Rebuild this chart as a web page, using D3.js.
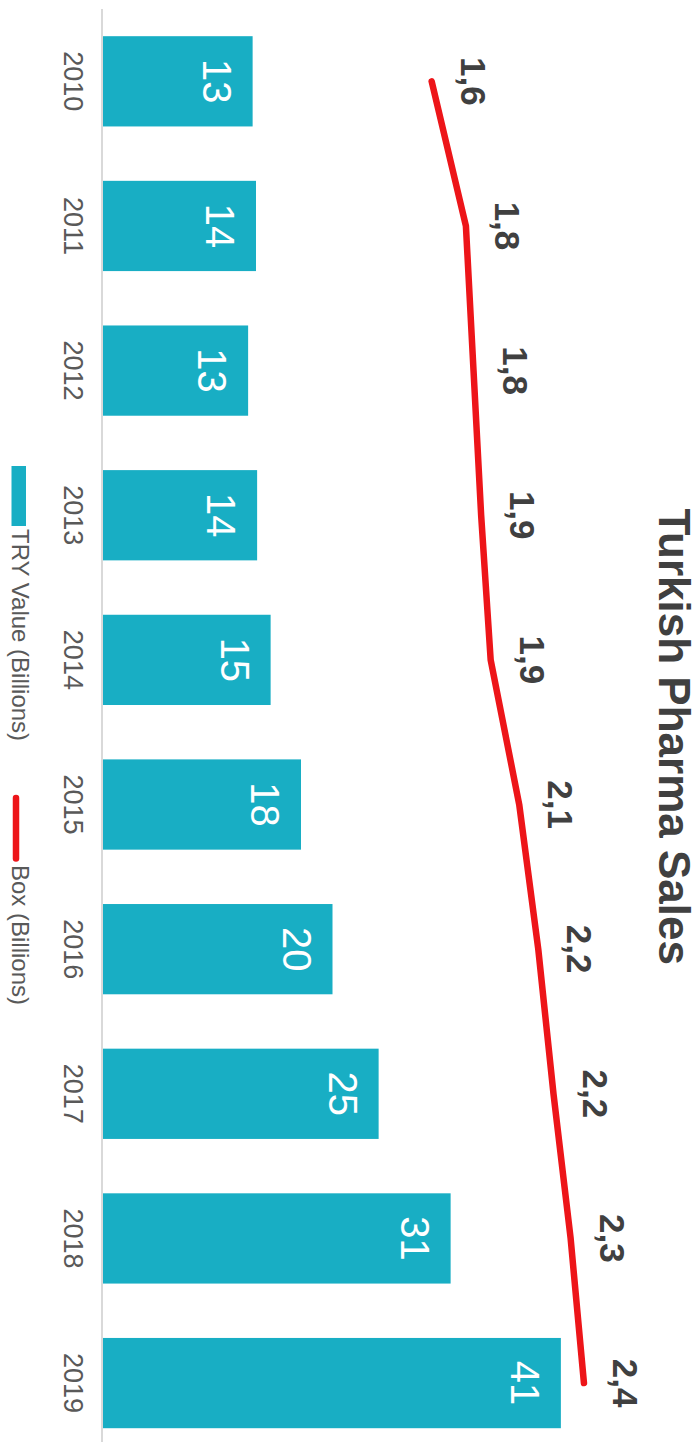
<!DOCTYPE html>
<html>
<head>
<meta charset="utf-8">
<script src="https://cdn.jsdelivr.net/npm/d3@7"></script>
<style>
  html, body { margin: 0; padding: 0; background: #ffffff; }
  svg { display: block; font-family: "Liberation Sans", Arial, sans-serif; }
</style>
</head>
<body>
<svg id="chart" width="699" height="1442"></svg>
<script>
// Yearly Turkish pharma market: value in TRY billions (bars) and boxes sold in billions (line)
const years = ["2010", "2011", "2012", "2013", "2014", "2015", "2016", "2017", "2018", "2019"];
const tryValue = [13.3, 13.6, 12.9, 13.7, 14.9, 17.6, 20.4, 24.5, 30.9, 40.7];
const boxValue = [1.60, 1.78, 1.82, 1.86, 1.91, 2.06, 2.16, 2.24, 2.33, 2.40];
const seriesNames = ["TRY Value (Billions)", "Box (Billions)"];
const chartTitle = "Turkish Pharma Sales";

const W = 1442, H = 699;           // chart drawn landscape, then turned a quarter clockwise
const barColor = "#18aec4";
const lineColor = "#ed1519";

const svg = d3.select("#chart");
const g = svg.append("g").attr("transform", `translate(${H},0) rotate(90)`);

const x = d3.scaleBand().domain(years).range([9, 9 + 10 * 144.64])
  .paddingInner(0.376).paddingOuter(0.188);
const yBar = d3.scaleLinear().domain([0, 45]).range([596, 596 - 45 * 11.25]);
const yBox = d3.scaleLinear().domain([0, 2.5]).range([572, 572 - 2.5 * 190.4]);

// bars
g.selectAll("rect.bar").data(years).join("rect")
  .attr("class", "bar")
  .attr("x", d => x(d))
  .attr("width", x.bandwidth())
  .attr("y", (d, i) => yBar(tryValue[i]))
  .attr("height", (d, i) => yBar(0) - yBar(tryValue[i]))
  .attr("fill", barColor);

// category axis
const axis = g.append("g").attr("transform", `translate(0,${yBar(0) + 1})`)
  .call(d3.axisBottom(x).tickSize(0).tickPadding(19));
axis.select(".domain").remove();
axis.append("line").attr("x1", 9).attr("x2", W).attr("y1", 0).attr("y2", 0)
  .attr("stroke", "#d9d9d9").attr("stroke-width", 2);
axis.selectAll(".tick text")
  .attr("font-size", 27).attr("fill", "#595959")
  .attr("font-family", "'Liberation Sans', Arial, sans-serif");

// bar value labels
g.selectAll("text.barlab").data(years).join("text")
  .attr("class", "barlab")
  .attr("x", d => x(d) + x.bandwidth() / 2)
  .attr("y", (d, i) => yBar(tryValue[i]) + 50)
  .attr("text-anchor", "middle")
  .attr("font-size", 40).attr("fill", "#ffffff")
  .text((d, i) => d3.format(".0f")(tryValue[i]));

// box line
const line = d3.line()
  .x((d, i) => x(years[i]) + x.bandwidth() / 2)
  .y(d => yBox(d));
g.append("path").datum(boxValue)
  .attr("d", line)
  .attr("fill", "none").attr("stroke", lineColor)
  .attr("stroke-width", 6.5).attr("stroke-linejoin", "round").attr("stroke-linecap", "round");

// box value labels
const commaFmt = v => d3.format(".1f")(v).replace(".", ",");
g.selectAll("text.boxlab").data(boxValue).join("text")
  .attr("class", "boxlab")
  .attr("x", (d, i) => x(years[i]) + x.bandwidth() / 2)
  .attr("y", d => yBox(d) - 29)
  .attr("text-anchor", "middle")
  .attr("font-size", 35).attr("font-weight", "bold").attr("fill", "#404040")
  .text(d => commaFmt(d));

// title
g.append("text")
  .attr("x", 736.7).attr("y", 40.5)
  .attr("text-anchor", "middle")
  .attr("font-size", 44).attr("font-weight", "bold").attr("fill", "#404040")
  .text(chartTitle);

// legend
const leg = g.append("g");
leg.append("rect").attr("x", 466).attr("y", 673).attr("width", 60).attr("height", 14.5)
  .attr("fill", barColor);
leg.append("text").attr("x", 529).attr("y", 687)
  .attr("font-size", 24).attr("fill", "#595959").text(seriesNames[0]);
leg.append("line").attr("x1", 798).attr("x2", 858.5).attr("y1", 683).attr("y2", 683)
  .attr("stroke", lineColor).attr("stroke-width", 6.5).attr("stroke-linecap", "round");
leg.append("text").attr("x", 865).attr("y", 687)
  .attr("font-size", 24).attr("fill", "#595959").text(seriesNames[1]);
</script>
</body>
</html>
